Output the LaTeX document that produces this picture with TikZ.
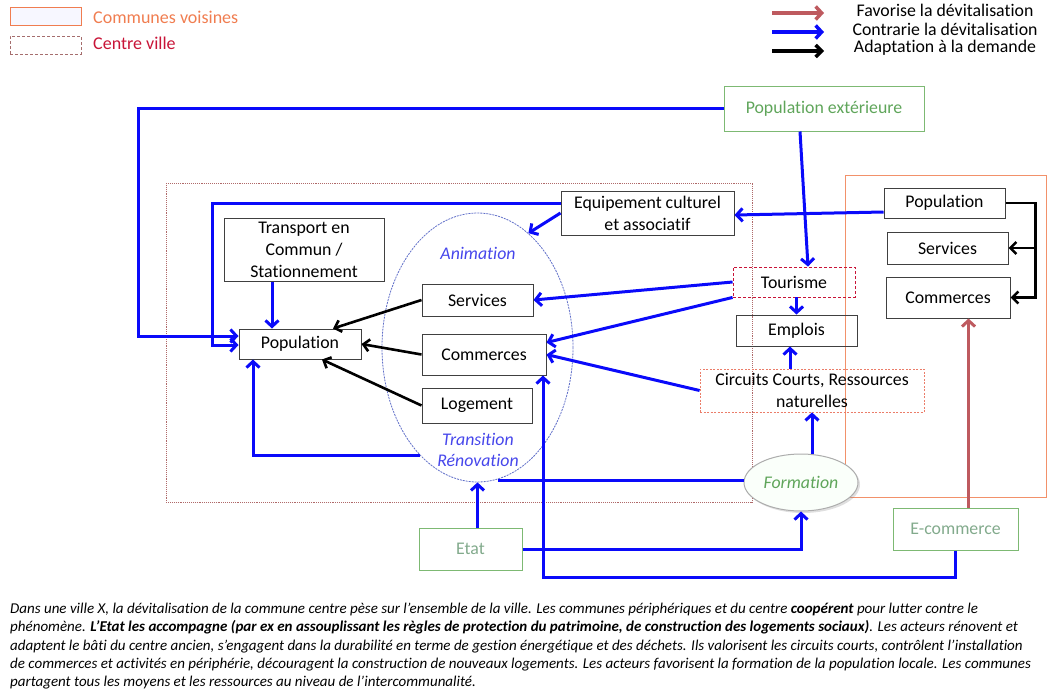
\documentclass[tikz,border=0pt]{standalone}
\usepackage{fontspec}
\setmainfont{Carlito}[RawFeature={-liga;-clig;-calt;-dlig}]
\usetikzlibrary{arrows.meta,shapes.geometric,shadows,calc}
\definecolor{arrblue}{RGB}{10,10,250}
\definecolor{favred}{RGB}{190,90,95}
\definecolor{vertbox}{RGB}{125,185,115}
\definecolor{verttxt}{RGB}{95,165,90}
\definecolor{grisvert}{RGB}{130,170,140}
\definecolor{orangecv}{RGB}{240,125,80}
\definecolor{rougecv}{RGB}{200,20,55}
\definecolor{cadrecv}{RGB}{175,105,105}
\definecolor{ellblue}{RGB}{95,110,200}
\definecolor{txtblue}{RGB}{70,70,235}
\definecolor{circuit}{RGB}{235,125,105}
\begin{document}
\begin{tikzpicture}[x=1pt,y=-1pt,
  every node/.style={font=\fontsize{17.8}{22}\selectfont, inner sep=0pt, align=center},
  bx/.style 2 args={draw=black!75, line width=1pt, minimum width=#1, minimum height=#2},
  gbx/.style 2 args={draw=vertbox, line width=1pt, minimum width=#1, minimum height=#2},
  barrow/.style={draw=arrblue, line width=3pt, -{Straight Barb[length=6pt,width=13pt]}},
  bline/.style={draw=arrblue, line width=3pt},
  karrow/.style={draw=black, line width=2.6pt, -{Straight Barb[length=6pt,width=12pt]}},
  rarrow/.style={draw=favred, line width=3pt, -{Straight Barb[length=6pt,width=13pt]}},
  itx/.style={font=\fontsize{17.8}{21}\selectfont\itshape},
  note/.style={anchor=base west, font=\fontsize{15}{18}\selectfont\itshape},
]
\useasboundingbox (0,0) rectangle (1048,691);

% legend, top left
\node[draw=orangecv, line width=0.8pt, fill=blue!3, minimum width=71, minimum height=18] (lgcv) at (45.5,16) {};
\node[draw=cadrecv!80!gray, densely dashed, line width=0.8pt, minimum width=71, minimum height=18] (lgcc) at (45.5,45) {};
\node[anchor=west, text=orangecv, font=\fontsize{18}{22}\selectfont] (lgcvt) at (93,17) {Communes voisines};
\node[anchor=west, text=rougecv, font=\fontsize{18}{22}\selectfont] (lgcct) at (93,43) {Centre ville};

% legend, top right
\node[text=black] (lgfav) at (945,10) {Favorise la dévitalisation};
\node[text=black] (lgcon) at (945,29) {Contrarie la dévitalisation};
\node[text=black] (lgada) at (945,48) {Adaptation à la demande};
\coordinate (lf1) at (772,13); \coordinate (lf2) at (824,13);
\coordinate (lc1) at (772,32); \coordinate (lc2) at (824,32);
\coordinate (la1) at (772,51); \coordinate (la2) at (824,51);
\draw[rarrow, line width=3.5pt] (lf1) -- (lf2);
\draw[barrow, line width=3.5pt] (lc1) -- (lc2);
\draw[karrow, line width=3.5pt] (la1) -- (la2);

% areas
\draw[cadrecv, densely dotted, line width=0.9pt] (166,183) rectangle (752,502);
\draw[orangecv!85, line width=0.8pt] (845,175) rectangle (1046,497);

% town centre nodes
\node[ellipse, draw=ellblue, dash pattern=on 2pt off 1pt, line width=0.8pt, minimum width=191, minimum height=269] (ell) at (477.5,347.5) {};
\node[itx, text=txtblue] (anim) at (478,253) {Animation};
\node[itx, text=txtblue] (trans) at (478,450) {Transition\\Rénovation};

\node[bx={160}{63}] (transport) at (304,249.5) {Transport en\\Commun /\\Stationnement};
\node[bx={122}{30}] (popc) at (300,344) {Population};
\node[bx={111}{32}] (servc) at (477.5,300) {Services};
\node[bx={124}{41}] (commc) at (484,354.5) {Commerces};
\node[bx={110}{35}] (loge) at (477,405.5) {Logement};
\node[bx={173}{44}] (equip) at (647.5,213) {Equipement culturel\\et associatif};

% neighbouring towns
\node[bx={121}{30}] (popr) at (944.5,203) {Population};
\node[bx={121}{32}] (servr) at (947.5,248) {Services};
\node[bx={124}{41}] (commr) at (948,297.5) {Commerces};

% shared nodes
\node[gbx={200}{45}, text=verttxt] (popext) at (824,108.5) {Population extérieure};
\node[draw=rougecv, dash pattern=on 3pt off 2pt, line width=0.9pt, minimum width=122, minimum height=30] (tour) at (794,282) {Tourisme};
\node[bx={121}{31}] (empl) at (796.5,330.5) {Emplois};
\node[draw=circuit, dash pattern=on 2pt off 1.5pt, line width=0.8pt, minimum width=224, minimum height=43] (circ) at (812,390.5) {Circuits Courts, Ressources\\naturelles};
\node[ellipse, draw=gray!65, line width=1pt, fill=green!2, drop shadow={opacity=0.25, shadow xshift=2pt, shadow yshift=-2pt}, minimum width=114, minimum height=57, itx, text=verttxt] (form) at (801,482.5) {Formation};
\node[gbx={125}{42}, text=grisvert] (ecom) at (955.5,529) {E-commerce};
\node[gbx={103}{42}, text=grisvert] (etat) at (470.5,549) {Etat};

% blue connectors
\draw[barrow] (popext.west) -| ([xshift=-100pt,yshift=8pt]popc.west) -- ([yshift=8pt]popc.west);
\draw[barrow] ([yshift=10pt]equip.west) -| ([xshift=-26pt,yshift=-1pt]popc.west) -- ([yshift=-1pt]popc.west);
\draw[barrow] (equip.west) -- (ell.66);
\draw[barrow] ([yshift=-9pt]popr.west) -- ([yshift=-2pt]equip.east);
\draw[barrow] ([xshift=-24pt]popext.south) -- ([xshift=14pt]tour.north);
\draw[barrow] (tour.west) -- (servc.east);
\draw[barrow] (tour.south west) -- ([yshift=12pt]commc.east);
\draw[barrow] (circ.west) -- (commc.east);
\draw[barrow] (empl.north |- tour.south) -- (empl.north);
\draw[barrow] ([xshift=-22pt]circ.north) -- ([xshift=-22pt]circ.north |- empl.south);
\draw[barrow] (form.north -| circ.south) -- (circ.south);
\draw[bline] ([yshift=2.5pt]form.west) -- ([yshift=2.5pt]form.west -| ell.-81);
\draw[barrow] (etat.north -| ell.south) -- (ell.south);
\draw[barrow] (etat.east) -| (form.south);
\draw[barrow] (ecom.south) -- ++(0,27) -| ([xshift=59pt]commc.south);
\draw[barrow] (ell.-118) -| ([xshift=-47pt]popc.south);
\draw[barrow] ([xshift=-32pt]transport.south) -- ([xshift=-32pt]transport.south |- popc.north);

% red connector
\draw[rarrow] ([xshift=13pt]ecom.north) -- ([xshift=13pt]ecom.north |- commr.south);

% black connectors
\draw[karrow] (servc.west) -- ([xshift=33pt]popc.north);
\draw[karrow] (commc.west) -- (popc.east);
\draw[karrow] (loge.west) -- ([xshift=22pt]popc.south);
\draw[karrow] (popr.east) -- ++(30,0) |- (commr.east);
\draw[karrow] ([xshift=30pt]popr.east) |- (servr.east);

% scenario text
\node[note] (t1) at (10,613) {Dans une ville X, la dévitalisation de la commune centre pèse sur l’ensemble de la ville. Les communes périphériques et du centre \textbf{coopérent} pour lutter contre le};
\node[note] (t2) at (10,631.5) {phénomène. \textbf{L’Etat les accompagne (par ex en assouplissant les règles de protection du patrimoine, de construction des logements sociaux)}. Les acteurs rénovent et};
\node[note] (t3) at (10,650) {adaptent le bâti du centre ancien, s’engagent dans la durabilité en terme de gestion énergétique et des déchets. Ils valorisent les circuits courts, contrôlent l’installation};
\node[note] (t4) at (10,668) {de commerces et activités en périphérie, découragent la construction de nouveaux logements. Les acteurs favorisent la formation de la population locale. Les communes};
\node[note] (t5) at (10,686) {partagent tous les moyens et les ressources au niveau de l’intercommunalité.};
\end{tikzpicture}
\end{document}
